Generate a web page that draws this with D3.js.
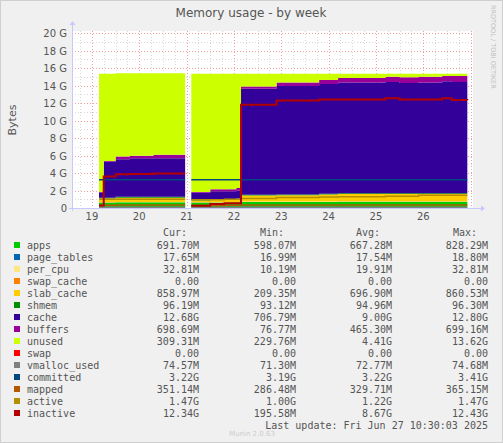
<!DOCTYPE html>
<html><head><meta charset="utf-8">
<script src="https://cdn.jsdelivr.net/npm/d3@7"></script>
<style>body{margin:0;background:#f0f0f0}svg{display:block}</style>
</head><body>
<svg id="c" width="503" height="443"></svg>
<script>
const T = [19.15,19.25,19.5,19.8,20.3,20.97,21.0,21.1,21.5,21.8,22.05,22.15,22.9,23.8,24.2,25.2,25.5,25.9,26.4,26.6,26.93];
const N = null;
const apps       = [0.6,0.6,0.65,0.65,0.65,0.65,N,0.6,0.62,0.62,0.65,0.68,0.68,0.68,0.69,0.69,0.69,0.69,0.69,0.69,0.69];
const pageTables = [0.018,0.018,0.018,0.018,0.018,0.018,N,0.017,0.017,0.017,0.017,0.018,0.018,0.018,0.018,0.018,0.018,0.018,0.018,0.018,0.018];
const perCpu     = [0.01,0.01,0.01,0.01,0.01,0.01,N,0.02,0.02,0.02,0.02,0.033,0.033,0.033,0.033,0.033,0.033,0.033,0.033,0.033,0.033];
const swapCache  = [0,0,0,0,0,0,N,0,0,0,0,0,0,0,0,0,0,0,0,0,0];
const slabCache  = [0.45,0.45,0.5,0.5,0.5,0.5,N,0.21,0.25,0.25,0.3,0.7,0.72,0.8,0.86,0.86,0.86,0.86,0.86,0.86,0.86];
const shmem      = [0.095,0.095,0.095,0.095,0.095,0.095,N,0.093,0.095,0.095,0.095,0.096,0.096,0.096,0.096,0.096,0.096,0.096,0.096,0.096,0.096];
const cache      = [0.6,4.1,4.3,4.4,4.4,4.4,N,0.8,0.9,0.9,0.9,12.1,12.4,12.55,12.65,12.7,12.6,12.65,12.8,12.7,12.68];
const buffers    = [0.08,0.1,0.3,0.3,0.4,0.4,N,0.08,0.25,0.25,0.3,0.25,0.4,0.45,0.5,0.6,0.65,0.65,0.6,0.7,0.7];
const unused     = [13.5,9.98,9.52,9.42,9.32,9.32,N,13.51,13.18,13.18,13.06,1.475,1.0,0.725,0.5,0.355,0.405,0.355,0.255,0.255,0.31];
const swap       = [0,0,0,0,0,0,N,0,0,0,0,0,0,0,0,0,0,0,0,0,0];
const vmalloc    = [0.073,0.073,0.073,0.073,0.073,0.073,N,0.072,0.072,0.072,0.072,0.073,0.073,0.073,0.074,0.074,0.074,0.074,0.074,0.074,0.074];
const committed  = [3.22,3.22,3.22,3.22,3.22,3.22,N,3.22,3.22,3.22,3.22,3.22,3.22,3.22,3.22,3.22,3.22,3.22,3.22,3.22,3.22];
const mapped     = [0.3,0.32,0.33,0.33,0.33,0.33,N,0.29,0.3,0.31,0.31,0.33,0.33,0.34,0.34,0.35,0.35,0.35,0.35,0.35,0.35];
const active     = [1.0,1.0,1.0,1.0,1.0,1.0,N,0.95,0.95,1.0,1.0,1.1,1.2,1.25,1.3,1.35,1.35,1.47,1.47,1.47,1.47];
const inactive   = [0.3,3.6,3.85,3.9,3.95,3.95,N,0.25,0.45,0.55,0.55,11.8,12.3,12.4,12.4,12.55,12.4,12.4,12.55,12.35,12.34];

const xTicks = [19,20,21,22,23,24,25,26];
const yTicks = [0,2,4,6,8,10,12,14,16,18,20];

const legend = [
 ["apps","#00CC00","691.70M","598.07M","667.28M","828.29M"],
 ["page_tables","#0066B3","17.65M","16.99M","17.54M","18.80M"],
 ["per_cpu","#FFE680","32.81M","10.19M","19.91M","32.81M"],
 ["swap_cache","#FF8000","0.00","0.00","0.00","0.00"],
 ["slab_cache","#FFCC00","858.97M","209.35M","696.90M","860.53M"],
 ["shmem","#008F00","96.19M","93.12M","94.96M","96.30M"],
 ["cache","#330099","12.68G","706.79M","9.00G","12.80G"],
 ["buffers","#990099","698.69M","76.77M","465.30M","699.16M"],
 ["unused","#CCFF00","309.31M","229.76M","4.41G","13.62G"],
 ["swap","#FF0000","0.00","0.00","0.00","0.00"],
 ["vmalloc_used","#808080","74.57M","71.30M","72.77M","74.68M"],
 ["committed","#00487D","3.22G","3.19G","3.22G","3.41G"],
 ["mapped","#B35A00","351.14M","286.48M","329.71M","365.15M"],
 ["active","#B38F00","1.47G","1.00G","1.22G","1.47G"],
 ["inactive","#B30000","12.34G","195.58M","8.67G","12.43G"]
];

const stackSeries = [["apps",apps,"#00CC00"],["page_tables",pageTables,"#0066B3"],["per_cpu",perCpu,"#FFE680"],["swap_cache",swapCache,"#FF8000"],["slab_cache",slabCache,"#FFCC00"],["shmem",shmem,"#008F00"],["cache",cache,"#330099"],["buffers",buffers,"#990099"],["unused",unused,"#CCFF00"],["swap",swap,"#FF0000"]];
const lineSeries = [[vmalloc,"#808080"],[committed,"#00487D"],[mapped,"#B35A00"],[active,"#B38F00"],[inactive,"#B30000"]];

const svg = d3.select("#c");
const L=72,R=473,TOP=33,B=208;
const x = d3.scaleLinear().domain([18.58,27.05]).range([L,R]);
const y = d3.scaleLinear().domain([0,20]).range([B,TOP]);

svg.append("rect").attr("x",0.5).attr("y",0.5).attr("width",502).attr("height",442).attr("fill","#f0f0f0").attr("stroke","#cfcfcf");
svg.append("rect").attr("x",L).attr("y",TOP-2).attr("width",R-L).attr("height",B-TOP+2).attr("fill","#fff");

const g = svg.append("g");
for (let v=0; v<=20; v+=1) {
  const major = v%2===0;
  g.append("line").attr("x1",L).attr("x2",R).attr("y1",Math.round(y(v))+0.5).attr("y2",Math.round(y(v))+0.5)
   .attr("stroke",major?"#f0a0a0":"#d8d8d8").attr("stroke-dasharray","1,2");
}
for (let d=18.75; d<27.05; d+=0.25) {
  const major = Math.abs(d-Math.round(d))<1e-6;
  g.append("line").attr("y1",TOP-2).attr("y2",B).attr("x1",Math.round(x(d))+0.5).attr("x2",Math.round(x(d))+0.5)
   .attr("stroke",major?"#f0a0a0":"#d8d8d8").attr("stroke-dasharray","1,2");
}

const rows = T.map((t,i)=>{const o={t,ok:apps[i]!==null}; stackSeries.forEach(s=>o[s[0]]=s[1][i]===null?0:s[1][i]); return o;});
const stack = d3.stack().keys(stackSeries.map(s=>s[0]))(rows);
const area = d3.area().curve(d3.curveStepAfter).defined(d=>d.data.ok).x(d=>x(d.data.t)).y0(d=>y(d[0])).y1(d=>y(d[1]));
stack.forEach((layer,i)=>svg.append("path").attr("d",area(layer)).attr("fill",stackSeries[i][2]));

const line = d3.line().curve(d3.curveStepAfter).defined(d=>d[1]!==null).x(d=>x(d[0])).y(d=>y(d[1]));
lineSeries.forEach(([arr,c],i)=>svg.append("path").attr("d",line(T.map((t,j)=>[t,arr[j]]))).attr("fill","none").attr("stroke",c).attr("stroke-width",i===4?2:1.5));

svg.append("line").attr("x1",L-3).attr("x2",R+8).attr("y1",B+0.5).attr("y2",B+0.5).attr("stroke","#c8c8ff");
svg.append("line").attr("x1",L+0.5).attr("x2",L+0.5).attr("y1",B+3).attr("y2",TOP-8).attr("stroke","#c8c8ff");
svg.append("path").attr("d",`M${R+8},${B-2.5}L${R+12},${B+0.5}L${R+8},${B+3.5}Z`).attr("fill","#c8c8ff");
svg.append("path").attr("d",`M${L-2.5},${TOP-8}L${L+0.5},${TOP-12}L${L+3.5},${TOP-8}Z`).attr("fill","#c8c8ff");

const font = "DejaVu Sans";
yTicks.forEach(v=>svg.append("text").attr("x",L-5).attr("y",y(v)+4).attr("text-anchor","end").attr("font-family",font).attr("font-size",10).attr("fill","#555").text(v===0?"0":v+" G"));
xTicks.forEach(v=>svg.append("text").attr("x",x(v)).attr("y",B+12).attr("text-anchor","middle").attr("font-family",font).attr("font-size",10).attr("fill","#555").text(v));

svg.append("text").attr("x",251).attr("y",17).attr("text-anchor","middle").attr("font-family",font).attr("font-size",12).attr("fill","#555").text("Memory usage - by week");
svg.append("text").attr("transform","translate(16,120) rotate(-90)").attr("text-anchor","middle").attr("font-family",font).attr("font-size",11).attr("fill","#555").text("Bytes");
svg.append("text").attr("transform","translate(491,5) rotate(90)").attr("font-family",font).attr("font-size",6.5).attr("fill","#c0c0c0").text("RRDTOOL / TOBI OETIKER");

const mono = "DejaVu Sans Mono";
[["Cur:",175],["Min:",272],["Avg:",368],["Max:",465]].forEach(([t,cx])=>svg.append("text").attr("x",cx).attr("y",236).attr("text-anchor","middle").attr("font-family",mono).attr("font-size",10).attr("fill","#555").text(t));
const colR=[199,296,392,488];
legend.forEach((r,i)=>{
  const yy=249+i*12;
  svg.append("rect").attr("x",14).attr("y",yy-7).attr("width",6).attr("height",6).attr("fill",r[1]);
  svg.append("text").attr("x",27).attr("y",yy).attr("font-family",mono).attr("font-size",10).attr("fill","#555").text(r[0]);
  for(let k=0;k<4;k++) svg.append("text").attr("x",colR[k]).attr("y",yy).attr("text-anchor","end").attr("font-family",mono).attr("font-size",10).attr("fill","#555").text(r[2+k]);
});
svg.append("text").attr("x",488).attr("y",429).attr("text-anchor","end").attr("font-family",mono).attr("font-size",10).attr("fill","#555").text("Last update: Fri Jun 27 10:30:03 2025");
svg.append("text").attr("x",252).attr("y",436).attr("text-anchor","middle").attr("font-family",font).attr("font-size",7).attr("fill","#ccc").text("Munin 2.0.63");
</script>
</body></html>
